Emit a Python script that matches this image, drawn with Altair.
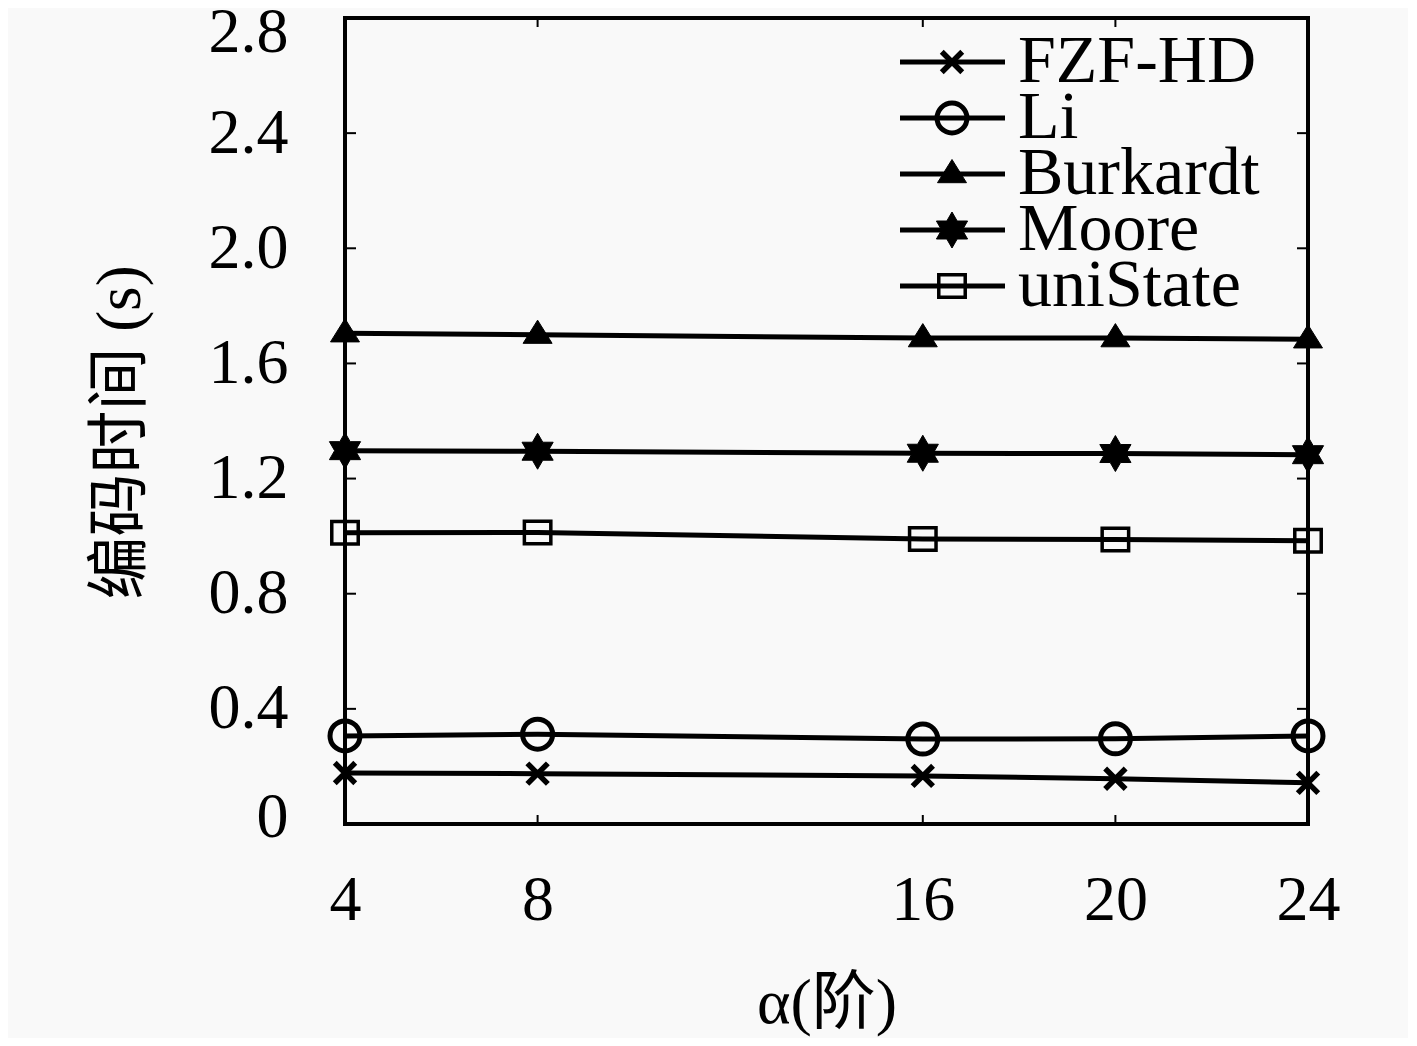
import altair as alt
import pandas as pd

# ---- data ----
alpha = [4, 8, 16, 20, 24]
series_names = ["FZF-HD", "Li", "Burkardt", "Moore", "uniState"]
fzf_hd = [0.177, 0.175, 0.167, 0.157, 0.143]
li = [0.306, 0.312, 0.295, 0.296, 0.306]
burkardt = [1.705, 1.700, 1.688, 1.688, 1.684]
moore = [1.297, 1.295, 1.288, 1.287, 1.283]
unistate = [1.012, 1.013, 0.990, 0.988, 0.984]
x_ticks = [4, 8, 16, 20, 24]
y_ticks = [0, 0.4, 0.8, 1.2, 1.6, 2.0, 2.4, 2.8]

values = [fzf_hd, li, burkardt, moore, unistate]
rows = []
for name, vals in zip(series_names, values):
    for a, v in zip(alpha, vals):
        rows.append({"series": name, "alpha": a, "time": v})
df = pd.DataFrame(rows)

# ---- styles ----
W, H = 963, 806
SERIF = "Liberation Serif, Noto Sans CJK SC"
X_PATH = "M-1,-1L1,1M-1,1L1,-1"
TRI = "M0,-1L1,0.6L-1,0.6Z"
HEX = ("M0,-1L0.289,-0.5L0.866,-0.5L0.577,0L0.866,0.5L0.289,0.5L0,1"
       "L-0.289,0.5L-0.866,0.5L-0.577,0L-0.866,-0.5L-0.289,-0.5Z")
RECT = "M-1,-0.85H1V0.85H-1Z"
styles = {
    "FZF-HD": dict(shape=X_PATH, size=420, filled=False, strokeWidth=5.5),
    "Li": dict(shape="circle", size=900, filled=False, strokeWidth=5),
    "Burkardt": dict(shape=TRI, size=840, filled=True, strokeWidth=1),
    "Moore": dict(shape=HEX, size=1296, filled=True, strokeWidth=1),
    "uniState": dict(shape=RECT, size=700, filled=False, strokeWidth=3.5),
}

xscale = alt.Scale(domain=[4, 24], nice=False, zero=False)
yscale = alt.Scale(domain=[0, 2.8], nice=False, zero=False)

xaxis = alt.Axis(values=x_ticks, ticks=False, domain=False, grid=False,
                 labelFont=SERIF, labelFontSize=64, labelPadding=44,
                 labelColor="black", labelFlush=False,
                 title="α(阶)", titleFont=SERIF, titleFontSize=64,
                 titleFontWeight="normal", titleColor="black",
                 titleX=W / 2, titleY=179, titleBaseline="middle",
                 titleAlign="center")
yaxis = alt.Axis(values=y_ticks, ticks=False, domain=False, grid=False,
                 labelFont=SERIF, labelFontSize=64, labelPadding=57,
                 labelColor="black", labelFlush=False,
                 labelOffset={"condition": [
                     {"test": "datum.value > 2.7", "value": 14},
                     {"test": "datum.value < 0.01", "value": -7}],
                     "value": 0},
                 labelExpr="datum.value == 0 ? '0' : format(datum.value, '.1f')",
                 title="编码时间 (s)", titleFont=SERIF, titleFontSize=63,
                 titleFontWeight="normal", titleColor="black",
                 titleAngle=270, titleX=-225, titleY=414,
                 titleBaseline="middle", titleAlign="center")

lines = alt.Chart(df).mark_line(color="black", strokeWidth=5).encode(
    x=alt.X("alpha:Q", scale=xscale, axis=xaxis),
    y=alt.Y("time:Q", scale=yscale, axis=yaxis),
    detail="series:N",
)

layers = [lines]

# markers per series
for name in series_names:
    st = styles[name]
    layers.append(
        alt.Chart(df).transform_filter(alt.datum.series == name).mark_point(
            shape=st["shape"], size=st["size"], filled=st["filled"],
            color="black", stroke="black", strokeWidth=st["strokeWidth"], opacity=1,
        ).encode(
            x=alt.X("alpha:Q", scale=xscale, axis=xaxis),
            y=alt.Y("time:Q", scale=yscale, axis=yaxis),
        )
    )

# inward tick marks on all four sides
ydf = pd.DataFrame({"v": y_ticks})
xdf = pd.DataFrame({"v": x_ticks})
tick_y = alt.Y("v:Q", scale=yscale, axis=yaxis)
tick_x = alt.X("v:Q", scale=xscale, axis=xaxis)
layers += [
    alt.Chart(ydf).mark_rule(color="black", strokeWidth=2).encode(
        y=tick_y, x=alt.value(0), x2=alt.value(11)),
    alt.Chart(ydf).mark_rule(color="black", strokeWidth=2).encode(
        y=tick_y, x=alt.value(W - 11), x2=alt.value(W)),
    alt.Chart(xdf).mark_rule(color="black", strokeWidth=2).encode(
        x=tick_x, y=alt.value(H - 9), y2=alt.value(H)),
    alt.Chart(xdf).mark_rule(color="black", strokeWidth=2).encode(
        x=tick_x, y=alt.value(0), y2=alt.value(9)),
]

# legend (line + marker + label), top right inside the plot
LEG_X0, LEG_X1, LEG_MX, LEG_TX = 555, 660, 607, 673
LEG_Y0, LEG_DY = 44, 56
for i, name in enumerate(series_names):
    st = styles[name]
    ldf = pd.DataFrame({"series": [name]})
    ry = LEG_Y0 + i * LEG_DY
    layers.append(alt.Chart(ldf).mark_rule(color="black", strokeWidth=5).encode(
        x=alt.value(LEG_X0), x2=alt.value(LEG_X1), y=alt.value(ry)))
    layers.append(alt.Chart(ldf).mark_point(
        shape=st["shape"], size=st["size"], filled=st["filled"],
        color="black", stroke="black", strokeWidth=st["strokeWidth"], opacity=1,
    ).encode(x=alt.value(LEG_MX), y=alt.value(ry)))
    layers.append(alt.Chart(ldf).mark_text(
        align="left", baseline="middle", font=SERIF, fontSize=68, color="black",
    ).encode(x=alt.value(LEG_TX), y=alt.value(ry), text="series:N"))

chart = alt.layer(*layers).properties(
    width=W, height=H,
    autosize=alt.AutoSizeParams(type="none"),
    padding={"left": 337, "top": 10, "right": 100, "bottom": 214},
    background="#f9f9f9",
).configure(font=SERIF).configure_view(stroke="black", strokeWidth=4)

chart.save("out.html", embed_options={"renderer": "svg", "actions": False})
